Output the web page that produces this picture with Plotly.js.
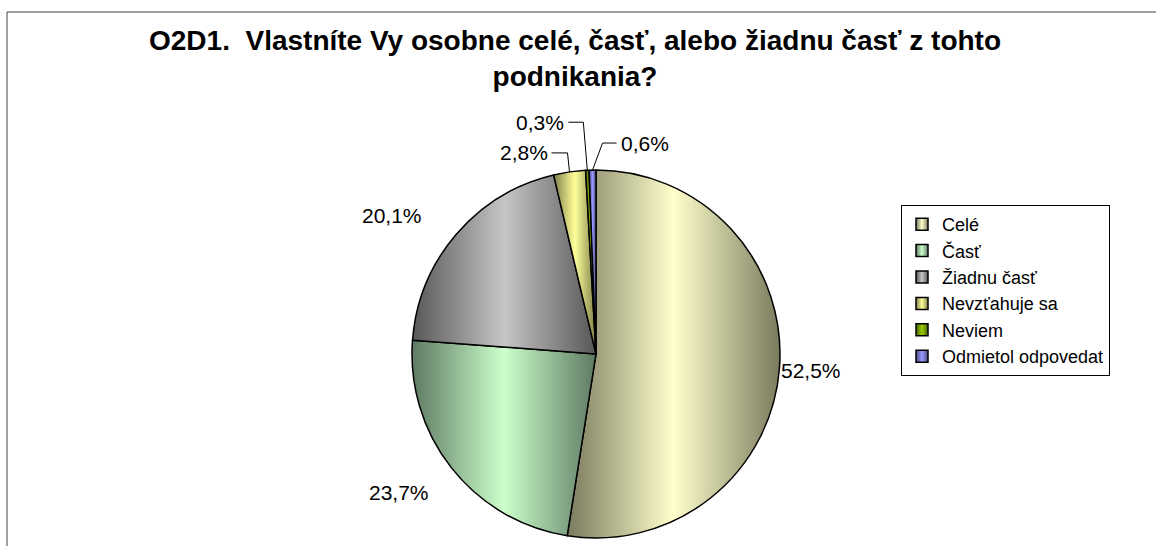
<!DOCTYPE html>
<html><head><meta charset="utf-8">
<script src="https://cdn.plot.ly/plotly-3.0.1.min.js"></script>
<style>html,body{margin:0;padding:0;background:#fff;overflow:hidden}</style>
</head><body><div id="chart" style="width:1156px;height:546px"></div>
<script>
// ---- data ----
const categories = ['Celé', 'Časť', 'Žiadnu časť', 'Nevzťahuje sa', 'Neviem', 'Odmietol odpovedat'];
const shares = [52.5, 23.7, 20.1, 2.8, 0.3, 0.6];
const titleLine1 = 'O2D1.  Vlastníte Vy osobne celé, časť, alebo žiadnu časť z tohto';
const titleLine2 = 'podnikania?';

// ---- style ----
const lightColors = ['#FFFFCC', '#CCFFCC', '#C6C6C6', '#FFFF99', '#99CC00', '#9999FF'];
const darkColors  = ['#7A7A5E', '#5E7A62', '#575757', '#7F7F4A', '#4A6600', '#4A4A80'];
const midColors   = ['#E6E6B8', '#B3E6B8', '#A8A8A8', '#E6E680', '#80B300', '#8080E6'];
const FONT = 'Liberation Sans, Arial, sans-serif';
const W = 1156, H = 546, CX = 596, CY = 354, R = 184;
const bigLabelStyle = [
  {r: 216, dx: 0, dy: 0},
  {r: 238, dx: -10, dy: -9},
  {r: 238, dx: -23, dy: 16}
];
const smallLabelStyle = [
  {ex: -2, ey: -19, run: -16, side: 'right'},
  {ex: -4, ey: -48, run: -15, side: 'right'},
  {ex: 10, ey: -27, run: 14, side: 'left'}
];

const total = shares.reduce((a, b) => a + b, 0);
const fmt = v => v.toFixed(1).replace('.', ',') + '%';
const px = x => x / W, py = y => 1 - y / H;

const annotations = [];
const shapes = [{
  type: 'rect', xref: 'paper', yref: 'paper',
  x0: px(7), x1: 1.05, y0: -0.05, y1: py(12),
  line: {color: '#404040', width: 1}
}];

let cum = 0;
shares.forEach((v, i) => {
  const mid = 2 * Math.PI * (cum + v / 2) / total;
  cum += v;
  const sx = Math.sin(mid), cy = Math.cos(mid);
  if (i < 3) {
    const s = bigLabelStyle[i];
    annotations.push({
      xref: 'paper', yref: 'paper', showarrow: false,
      x: px(CX + s.r * sx + s.dx), y: py(CY - s.r * cy + s.dy),
      xanchor: 'center', yanchor: 'middle',
      text: fmt(v), font: {family: FONT, size: 21, color: '#000'}
    });
  } else {
    const s = smallLabelStyle[i - 3];
    const ax = CX + R * sx, ay = CY - R * cy;
    const ex = ax + s.ex, ey = ay + s.ey;
    const tx = ex + s.run;
    shapes.push({
      type: 'path', xref: 'paper', yref: 'paper',
      path: `M${px(ax)},${py(ay)} L${px(ex)},${py(ey)} L${px(tx)},${py(ey)}`,
      line: {color: '#000', width: 1}
    });
    annotations.push({
      xref: 'paper', yref: 'paper', showarrow: false,
      x: px(tx + (s.side === 'right' ? -2 : 2)), y: py(ey),
      xanchor: s.side === 'right' ? 'right' : 'left', yanchor: 'middle',
      text: fmt(v), font: {family: FONT, size: 21, color: '#000'}
    });
  }
});

const data = [{
  type: 'pie',
  labels: categories,
  values: shares,
  sort: false,
  direction: 'clockwise',
  rotation: 0,
  textinfo: 'none',
  hoverinfo: 'label+percent',
  marker: {colors: midColors, line: {color: '#000', width: 1.5}},
  domain: {x: [px(CX - R), px(CX + R)], y: [py(CY + R), py(CY - R)]}
}];

const layout = {
  width: W, height: H,
  margin: {l: 0, r: 0, t: 0, b: 0},
  paper_bgcolor: '#fff',
  title: {
    text: titleLine1 + '<br>' + titleLine2,
    font: {family: FONT, size: 28, weight: 'bold', color: '#000'},
    xref: 'paper', x: 575 / W, xanchor: 'center',
    yref: 'container', y: 1 - 50 / H, yanchor: 'top'
  },
  showlegend: true,
  legend: {
    x: px(901), y: py(205), xanchor: 'left', yanchor: 'top',
    bordercolor: '#000', borderwidth: 1, bgcolor: '#fff',
    font: {family: FONT, size: 18, color: '#000'},
    traceorder: 'normal'
  },
  shapes: shapes,
  annotations: annotations
};

Plotly.newPlot('chart', data, layout, {staticPlot: true, displayModeBar: false}).then(gd => {
  const NS = 'http://www.w3.org/2000/svg';
  const svg = gd.querySelector('svg.main-svg');
  let defs = svg.querySelector('defs');
  if (!defs) { defs = document.createElementNS(NS, 'defs'); svg.insertBefore(defs, svg.firstChild); }
  categories.forEach((c, i) => {
    const g = document.createElementNS(NS, 'linearGradient');
    g.setAttribute('id', 'pieGrad' + i);
    g.setAttribute('x1', '0'); g.setAttribute('y1', '0');
    g.setAttribute('x2', '1'); g.setAttribute('y2', '0');
    [[0, darkColors[i]], [0.5, lightColors[i]], [1, darkColors[i]]].forEach(([o, col]) => {
      const st = document.createElementNS(NS, 'stop');
      st.setAttribute('offset', o);
      st.setAttribute('stop-color', col);
      g.appendChild(st);
    });
    defs.appendChild(g);
  });
  gd.querySelectorAll('g.slice path.surface').forEach((p, i) => {
    p.style.fill = `url(#pieGrad${i})`;
  });
  gd.querySelectorAll('.legend .traces').forEach((t, i) => {
    const p = t.querySelector('path.legendpie');
    if (p) p.style.fill = `url(#pieGrad${i})`;
  });
});
</script>
</body></html>
